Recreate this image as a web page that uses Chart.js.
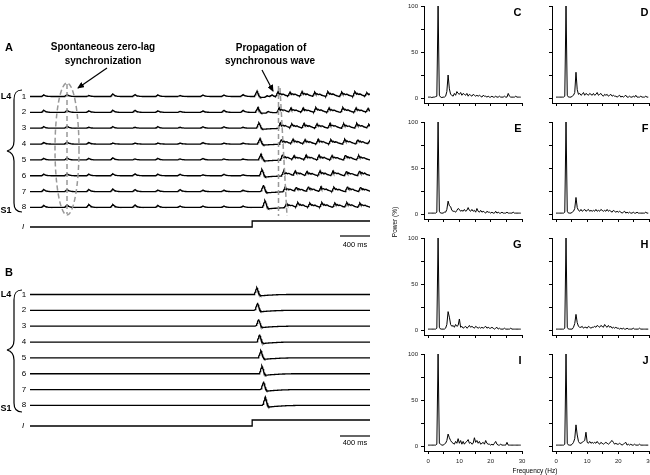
<!DOCTYPE html>
<html>
<head>
<meta charset="utf-8">
<script src="https://cdn.jsdelivr.net/npm/chart.js@4"></script>
<style>
  body { margin: 0; background: #fff; }
  #fig { position: relative; width: 650px; height: 475px; overflow: hidden;
         font-family: "Liberation Sans", Arial, sans-serif; color: #000; }
  canvas { position: absolute; }
  .t { position: absolute; white-space: nowrap; line-height: 1; transform: translate(-50%, -50%); }
  .r { transform: translate(-100%, -50%); }
  .b { font-weight: bold; }
  svg { position: absolute; left: 0; top: 0; pointer-events: none; }
</style>
</head>
<body>
<div id="fig">
  <canvas id="traceA" width="340" height="160" style="left:30px;top:80px"></canvas>
  <canvas id="traceB" width="340" height="160" style="left:30px;top:280px"></canvas>

  <canvas id="specC" width="130" height="118" style="left:398px;top:2px"></canvas>
  <canvas id="specD" width="130" height="118" style="left:526px;top:2px"></canvas>
  <canvas id="specE" width="130" height="118" style="left:398px;top:118px"></canvas>
  <canvas id="specF" width="130" height="118" style="left:526px;top:118px"></canvas>
  <canvas id="specG" width="130" height="118" style="left:398px;top:234px"></canvas>
  <canvas id="specH" width="130" height="118" style="left:526px;top:234px"></canvas>
  <canvas id="specI" width="130" height="118" style="left:398px;top:350px"></canvas>
  <canvas id="specJ" width="130" height="118" style="left:526px;top:350px"></canvas>

  <svg width="650" height="475">
    <defs>
      <marker id="ah" markerWidth="7" markerHeight="6" refX="6" refY="3" orient="auto" markerUnits="userSpaceOnUse">
        <path d="M0,0 L7,3 L0,6 z" fill="#000"/>
      </marker>
    </defs>
    <!-- braces -->
    <path d="M22,90 C16,90 14,93 14,100 L14,141 C14,147 11,150 7,151 C11,152 14,155 14,161 L14,203 C14,209 16,212 22,212" fill="none" stroke="#000" stroke-width="1.2"/>
    <path d="M22,290 C16,290 14,293 14,300 L14,340 C14,346 11,349 7,350 C11,351 14,354 14,360 L14,403 C14,409 16,412 22,412" fill="none" stroke="#000" stroke-width="1.2"/>
    <!-- zero-lag ellipse -->
    <ellipse cx="67" cy="149" rx="12" ry="66" fill="none" stroke="#999" stroke-width="1.5" stroke-dasharray="5,3"/>
    <line x1="67" y1="84" x2="67" y2="214" stroke="#999" stroke-width="1.5" stroke-dasharray="5,3"/>
    <!-- propagation lines -->
    <line x1="278.5" y1="86" x2="278.5" y2="216" stroke="#999" stroke-width="1.5" stroke-dasharray="5,3"/>
    <line x1="280" y1="88" x2="287" y2="216" stroke="#999" stroke-width="1.5" stroke-dasharray="5,3"/>
    <!-- arrows -->
    <line x1="107" y1="68" x2="78" y2="88" stroke="#000" stroke-width="1.2" marker-end="url(#ah)"/>
    <line x1="262" y1="70" x2="273" y2="91" stroke="#000" stroke-width="1.2" marker-end="url(#ah)"/>
  </svg>

  <div class="t b" style="left:9px;top:47px;font-size:11px">A</div>
  <div class="t b" style="left:103px;top:47px;font-size:10px">Spontaneous zero-lag</div>
  <div class="t b" style="left:103px;top:61px;font-size:10px">synchronization</div>
  <div class="t b" style="left:271px;top:48px;font-size:10px">Propagation of</div>
  <div class="t b" style="left:270px;top:61px;font-size:10px">synchronous wave</div>
  <div class="t b" style="left:9px;top:272px;font-size:11px">B</div>

  <div class="t" style="left:355px;top:245px;font-size:7.5px">400 ms</div>
  <div class="t" style="left:355px;top:443px;font-size:7.5px">400 ms</div>

  <div class="t" style="left:535px;top:471px;font-size:6.5px">Frequency (Hz)</div>
  <div class="t" style="left:395px;top:222px;font-size:6.5px;transform:translate(-50%,-50%) rotate(-90deg)">Power (%)</div>
  <div id="labels"></div>
</div>

<script>
// ---------- traces (panels A and B) ----------
const traceMs = 4530;
const stimOnset = 2960;
const scaleBarMs = 400;
const channels = ["1", "2", "3", "4", "5", "6", "7", "8"];
const currentLevels = [0, 1];

// spontaneous, zero-lag events (same time on all channels)
const preTimes = [185, 495, 785, 1105, 1400, 1705, 2000, 2305, 2585, 2840];
const preAmpA = [
  [1.5, 2, 1, 2.5, 2, 1.5, 1, 1.5, 1.5, 2],
  [2, 2, 1.5, 2, 2, 1.5, 1, 1.5, 2, 2],
  [1.5, 2, 1, 1.5, 1, 1.5, 1, 1.5, 1.5, 1],
  [1.5, 2, 1.5, 1, 1, 1, 1, 1.5, 1, 1],
  [1.5, 2, 1.5, 2, 1, 1.5, 1, 1.5, 1, 1],
  [1.5, 2, 1.5, 2, 2, 1.5, 1.5, 1, 1.5, 1],
  [2, 2, 2, 2.5, 2, 1.5, 2, 1.5, 1.5, 1.5],
  [2, 2.5, 3, 3, 2.5, 2, 1.5, 1.5, 1.5, 1.5]
];
const evokedTimesA = [3025, 3038, 3051, 3065, 3078, 3091, 3111, 3131];
const evokedAmpA = [5.5, 5, 5.5, 5.5, 6, 6.5, 6.5, 7];
const lateBumpsA = [[[3160, 1.5], [3225, 2]], [[3175, 1.5]], [], [], [], [], [], []];
const waveTimesA = [
  [3305, 3465, 3625, 3795, 3970, 4155, 4330, 4490],
  [3320, 3478, 3640, 3810, 3985, 4170, 4345, 4505],
  [3335, 3490, 3652, 3825, 3998, 4180, 4355, 4515],
  [3350, 3505, 3665, 3840, 4010, 4195, 4368, 4525],
  [3365, 3520, 3680, 3852, 4025, 4205, 4380],
  [3380, 3535, 3692, 3865, 4038, 4218, 4392],
  [3400, 3550, 3710, 3878, 4050, 4230, 4405],
  [3420, 3570, 3730, 3890, 4063, 4222, 4396]
];
const waveAmpA = [
  [5, 4.5, 5, 4.5, 5, 4.5, 5, 4],
  [5, 4.5, 4.5, 5, 4.5, 5, 4.5, 4],
  [5.5, 4.5, 5, 4.5, 5, 4.5, 5, 4],
  [5, 5, 4.5, 5, 4.5, 5, 4.5, 3],
  [5.5, 4.5, 5, 5, 4.5, 5, 4.5],
  [5, 5, 4.5, 5, 5, 4.5, 5],
  [5, 4.5, 5, 5, 4.5, 5, 4.5],
  [4.5, 5, 4.5, 5, 4.5, 5, 4.5]
];
const evokedTimesB = [3023, 3032, 3046, 3059, 3077, 3091, 3112, 3135];
const evokedAmpB = [7, 7.5, 7, 7.5, 7.5, 8, 8, 8.5];

// waveform templates [ms from peak, fraction of peak]
const spikeShape = [[-35, 0], [0, 1], [25, 0.4], [60, 0.1], [100, 0]];
const evokedShape = [[-35, 0], [0, 1], [30, 0.1], [50, -0.18], [120, -0.12], [250, -0.04], [400, 0]];
const waveShape = [[-30, 0], [0, 1], [18, 0.5], [32, 0.65], [48, 0.42], [68, 0.52], [90, 0.32], [120, 0.15], [150, 0]];

// ---------- power spectra (panels C-J) ----------
const freqs = [0, 0.4, 0.8, 1.2, 1.6, 2, 2.4, 2.8, 3.2, 3.6,
  4, 4.4, 4.8, 5.2, 5.6, 6, 6.4, 6.8, 7.2, 7.6,
  8, 8.4, 8.8, 9.2, 9.6, 10, 10.4, 10.8, 11.2, 11.6,
  12, 12.4, 12.8, 13.2, 13.6, 14, 14.4, 14.8, 15.2, 15.6,
  16, 16.4, 16.8, 17.2, 17.6, 18, 18.4, 18.8, 19.2, 19.6,
  20, 20.4, 20.8, 21.2, 21.6, 22, 22.4, 22.8, 23.2, 23.6,
  24, 24.4, 24.8, 25.2, 25.6, 26, 26.4, 26.8, 27.2, 27.6,
  28, 28.4, 28.8, 29.2, 29.6];
const freqTicks = [0, 5, 10, 15, 20, 25, 30];
const powerTicks = [0, 25, 50, 75, 100];

const powerC = [1, 1, 1, 0.5, 1, 1, 1.5, 2, 100, 3,
  1, 0.5, 1, 1, 2, 7, 25, 10, 4, 3,
  2, 5, 3, 7, 5, 4, 6, 3, 5, 4,
  3, 5, 2, 4, 3, 2, 4, 3, 2, 3,
  2, 3, 2, 1, 3, 2, 2, 1, 2, 1,
  1, 2, 1, 1, 2, 1, 1, 2, 1, 1,
  1, 2, 1, 1, 5, 2, 1, 1, 1, 1,
  2, 1, 1, 1, 1];
const powerD = [1, 1, 1, 1, 1, 1, 1, 2, 100, 3,
  1, 1, 1, 2, 3, 6, 28, 9, 4, 5,
  3, 4, 6, 3, 5, 4, 3, 5, 4, 3,
  5, 3, 4, 6, 3, 4, 5, 3, 2, 4,
  3, 4, 2, 3, 4, 2, 3, 2, 2, 1,
  2, 3, 1, 2, 1, 2, 3, 1, 1, 2,
  1, 1, 2, 1, 3, 1, 1, 1, 2, 1,
  1, 1, 2, 1, 1];
const powerE = [1, 1, 1, 1, 1, 1, 1, 2, 100, 3,
  1, 1, 1, 2, 2, 5, 14, 9, 8, 4,
  3, 3, 2, 4, 6, 5, 3, 4, 3, 5,
  3, 4, 7, 4, 3, 5, 3, 4, 2, 6,
  3, 2, 4, 2, 3, 2, 1, 3, 2, 2,
  1, 2, 1, 1, 3, 1, 2, 1, 1, 2,
  1, 1, 1, 2, 1, 1, 1, 1, 2, 1,
  1, 1, 1, 1, 1];
const powerF = [1, 1, 1, 1, 1, 1, 1, 2, 100, 3,
  1, 1, 1, 2, 3, 6, 18, 7, 4, 3,
  5, 3, 4, 5, 3, 4, 5, 3, 4, 3,
  4, 3, 5, 3, 4, 3, 5, 4, 3, 4,
  3, 5, 3, 4, 3, 2, 4, 3, 2, 3,
  2, 3, 2, 1, 2, 3, 1, 2, 1, 2,
  1, 1, 2, 1, 1, 2, 1, 1, 1, 1,
  1, 1, 2, 1, 1];
const powerG = [1, 1, 1, 1, 1, 1, 1, 2, 100, 3,
  1, 1, 1, 1, 2, 6, 20, 14, 6, 4,
  5, 3, 6, 4, 5, 12, 3, 4, 2, 3,
  4, 2, 3, 5, 3, 4, 3, 2, 4, 3,
  2, 3, 2, 3, 2, 3, 4, 2, 3, 2,
  2, 3, 2, 1, 2, 3, 1, 2, 1, 1,
  1, 2, 1, 1, 1, 1, 2, 1, 1, 1,
  1, 1, 1, 1, 1];
const powerH = [1, 1, 1, 1, 1, 1, 1, 2, 100, 3,
  1, 1, 1, 1, 3, 7, 17, 8, 4, 3,
  3, 4, 2, 3, 3, 2, 4, 3, 2, 3,
  3, 4, 3, 5, 4, 3, 5, 4, 3, 6,
  4, 3, 5, 3, 4, 2, 3, 2, 3, 2,
  2, 1, 2, 1, 2, 1, 1, 2, 1, 1,
  1, 1, 2, 1, 1, 1, 1, 2, 1, 1,
  1, 1, 1, 1, 1];
const powerI = [1, 1, 1, 1, 1, 1, 1, 2, 100, 3,
  2, 1, 1, 2, 3, 6, 13, 9, 6, 4,
  3, 2, 5, 3, 8, 3, 6, 2, 5, 2,
  4, 5, 7, 3, 4, 2, 3, 9, 4, 6,
  3, 5, 2, 3, 4, 2, 6, 3, 2, 2,
  1, 2, 1, 3, 5, 2, 1, 1, 2, 1,
  1, 1, 1, 4, 1, 1, 1, 1, 1, 1,
  1, 1, 1, 1, 1];
const powerJ = [1, 1, 1, 1, 1, 1, 1, 2, 100, 3,
  1, 1, 1, 2, 4, 8, 23, 12, 5, 3,
  3, 4, 5, 6, 15, 4, 3, 5, 3, 4,
  3, 4, 3, 5, 3, 2, 4, 3, 2, 3,
  4, 3, 2, 3, 5, 6, 4, 2, 3, 2,
  2, 3, 2, 1, 2, 3, 4, 1, 2, 1,
  2, 1, 1, 2, 1, 1, 1, 2, 1, 1,
  1, 1, 1, 1, 1];

const FONT = '"Liberation Sans", Arial, sans-serif';
const ROW = 15.85;

function shapeAt(shape, dt) {
  if (dt <= shape[0][0] || dt >= shape[shape.length - 1][0]) return 0;
  for (let i = 1; i < shape.length; i++) {
    if (dt <= shape[i][0]) {
      const [t0, v0] = shape[i - 1], [t1, v1] = shape[i];
      return v0 + (v1 - v0) * (dt - t0) / (t1 - t0);
    }
  }
  return 0;
}

function buildTrace(events, offset) {
  const ts = new Set();
  for (let t = 0; t <= traceMs; t += 5) ts.add(t);
  events.forEach(e => ts.add(e.t));
  return [...ts].sort((a, b) => a - b).map(t => ({
    x: t,
    y: offset + events.reduce((s, e) => s + e.h * shapeAt(e.shape, t - e.t), 0)
  }));
}

function lineSet(points, width) {
  return { data: points, borderColor: '#000', borderWidth: width, pointRadius: 0, tension: 0, fill: false };
}

function traceChart(id, yMax, yMin, sets) {
  new Chart(document.getElementById(id), {
    type: 'line',
    data: { datasets: sets },
    options: {
      responsive: false, animation: false, events: [],
      layout: { padding: 0 },
      plugins: { legend: { display: false }, tooltip: { enabled: false } },
      scales: {
        x: { type: 'linear', min: 0, max: traceMs, display: false },
        y: { type: 'linear', min: yMin, max: yMax, display: false }
      }
    }
  });
}

function currentSet(base) {
  const lo = base + currentLevels[0] * 6, hi = base + currentLevels[1] * 6;
  return lineSet([{ x: 0, y: lo }, { x: stimOnset, y: lo }, { x: stimOnset, y: hi }, { x: traceMs, y: hi }], 1.3);
}

function barSet(y) {
  return lineSet([{ x: traceMs - scaleBarMs, y: y }, { x: traceMs, y: y }], 1.2);
}

// Panel A
const setsA = channels.map((c, k) => {
  const ev = [];
  preTimes.forEach((t, j) => ev.push({ t: t, h: preAmpA[k][j], shape: spikeShape }));
  ev.push({ t: evokedTimesA[k], h: evokedAmpA[k], shape: evokedShape });
  lateBumpsA[k].forEach(b => ev.push({ t: b[0], h: b[1], shape: spikeShape }));
  waveTimesA[k].forEach((t, j) => ev.push({ t: t, h: waveAmpA[k][j], shape: waveShape }));
  return lineSet(buildTrace(ev, -k * ROW), 1.3);
});
setsA.push(currentSet(-130.5));
setsA.push(barSet(-139.5));
traceChart('traceA', 16.5, -143.5, setsA);

// Panel B
const setsB = channels.map((c, k) => {
  const ev = [{ t: evokedTimesB[k], h: evokedAmpB[k], shape: evokedShape }];
  return lineSet(buildTrace(ev, -k * ROW), 1.3);
});
setsB.push(currentSet(-131.5));
setsB.push(barSet(-141.5));
traceChart('traceB', 14.5, -145.5, setsB);

// row labels
const lab = document.getElementById('labels');
function addText(txt, x, y, style, cls) {
  const d = document.createElement('div');
  d.className = 't ' + (cls || '');
  d.textContent = txt;
  d.style.cssText = `left:${x}px;top:${y}px;` + style;
  lab.appendChild(d);
}
[96.5, 294.5].forEach(top => {
  channels.forEach((c, k) => addText(c, 24, top + k * ROW, 'font-size:8px'));
  addText('L4', 6, top - 1, 'font-size:9px', 'b');
  addText('S1', 6, top + 7 * ROW + 3, 'font-size:9px', 'b');
});
addText('I', 23, 226.5, 'font-size:8px;font-style:italic');
addText('I', 23, 426, 'font-size:8px;font-style:italic');

// spectra
function spectrum(id, values, showX, showY, padRight) {
  const tickStyle = { drawOnChartArea: false, color: '#000', lineWidth: 1, tickLength: 3 };
  new Chart(document.getElementById(id), {
    type: 'line',
    data: { datasets: [{
      data: freqs.map((f, i) => ({ x: f, y: values[i] })),
      borderColor: '#000', borderWidth: 1, pointRadius: 0, tension: 0, clip: false
    }] },
    options: {
      responsive: false, animation: false, events: [],
      layout: { padding: { top: 4, right: padRight, left: 0, bottom: 0 } },
      plugins: { legend: { display: false }, tooltip: { enabled: false } },
      scales: {
        x: {
          type: 'linear', min: -1.3, max: 30,
          afterBuildTicks: s => { s.ticks = freqTicks.map(v => ({ value: v })); },
          afterFit: s => { s.height = 17; s.paddingLeft = 0; s.paddingRight = 0; },
          grid: tickStyle,
          border: { display: true, color: '#000', width: 1 },
          ticks: { autoSkip: false, maxRotation: 0, padding: 4, color: '#222',
                   font: { size: 6, family: FONT },
                   callback: v => (showX && v % 10 === 0) ? String(v) : '' }
        },
        y: {
          type: 'linear', min: -5.4, max: 100,
          afterBuildTicks: s => { s.ticks = powerTicks.map(v => ({ value: v })); },
          afterFit: s => { s.width = 26; s.paddingTop = 0; s.paddingBottom = 0; },
          grid: tickStyle,
          border: { display: true, color: '#000', width: 1 },
          ticks: { autoSkip: false, padding: 3, color: '#222',
                   font: { size: 6, family: FONT },
                   callback: v => (showY && v % 50 === 0) ? String(v) : '' }
        }
      }
    }
  });
}

spectrum('specC', powerC, false, true, 6);
spectrum('specD', powerD, false, false, 6.5);
spectrum('specE', powerE, false, true, 6);
spectrum('specF', powerF, false, false, 6.5);
spectrum('specG', powerG, false, true, 6);
spectrum('specH', powerH, false, false, 6.5);
spectrum('specI', powerI, true, true, 6);
spectrum('specJ', powerJ, true, false, 6.5);

const letters = ['C', 'D', 'E', 'F', 'G', 'H', 'I', 'J'];
const rowTops = [6, 122, 238, 354];
letters.forEach((l, i) => {
  const x = (i % 2 === 0) ? 521.5 : 648.5;
  addText(l, x, rowTops[Math.floor(i / 2)] + 6, 'font-size:11px', 'b r');
});
</script>
</body>
</html>
